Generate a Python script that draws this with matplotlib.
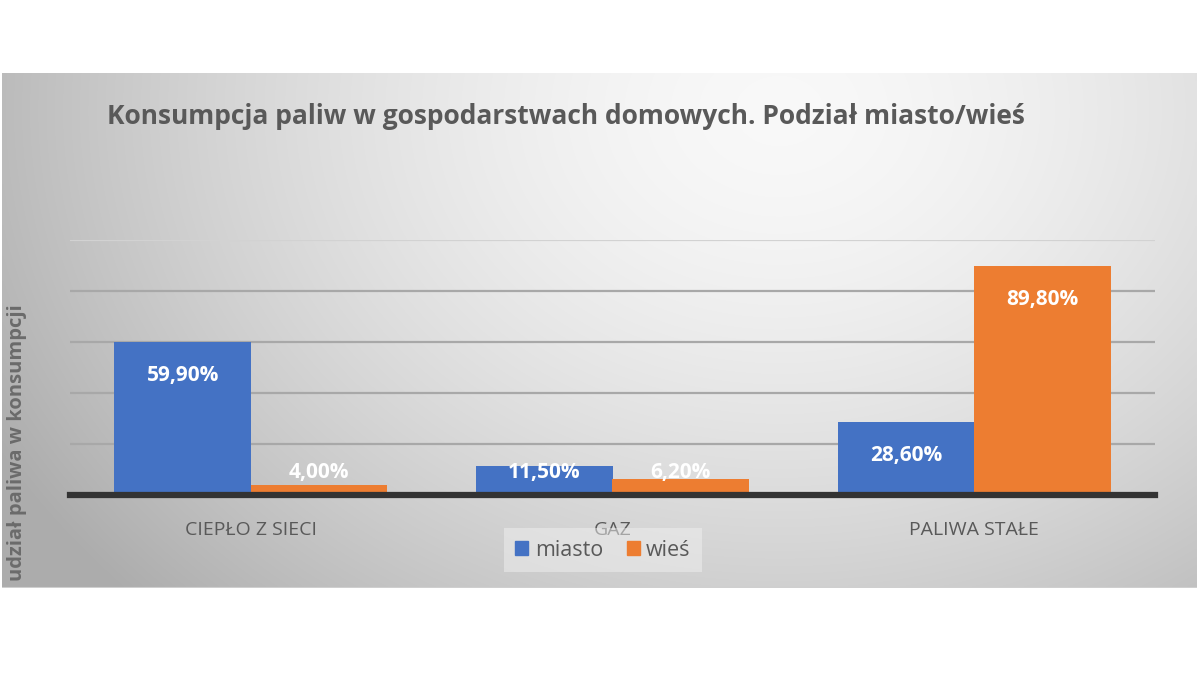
import numpy as np
import matplotlib
matplotlib.use("Agg")
import matplotlib.pyplot as plt
from matplotlib.patches import Patch

# ---- data ----
categories = ["CIEPŁO Z SIECI", "GAZ", "PALIWA STAŁE"]
miasto = [59.9, 11.5, 28.6]
wies = [4.0, 6.2, 89.8]
series_names = ["miasto", "wieś"]
title = "Konsumpcja paliw w gospodarstwach domowych. Podział miasto/wieś"
ylabel = "udział paliwa w konsumpcji"

FONT = ["Open Sans", "DejaVu Sans"]
plt.rcParams["font.family"] = FONT

W, H = 1200, 698
fig = plt.figure(figsize=(W / 100, H / 100), dpi=100)
fig.patch.set_facecolor("white")

# ---- gradient panel background ----
px0, px1, py0, py1 = 2, 1197, 73, 588
bg = fig.add_axes([px0 / W, 1 - py1 / H, (px1 - px0) / W, (py1 - py0) / H])
xs = np.linspace(px0, px1, 400)
ys = np.linspace(py0, py1, 200)
X, Y = np.meshgrid(xs, ys)
d = np.sqrt(((X - 780) / 780) ** 2 + ((Y - 110) / 620) ** 2)
v = 0.975 - 0.24 * np.clip(d, 0, 1.15) ** 1.6
img = np.dstack([v, v, v])
bg.imshow(img, aspect="auto", extent=[0, 1, 0, 1], interpolation="bilinear")
bg.set_xlim(0, 1)
bg.set_ylim(0, 1)
bg.axis("off")
bg.axhline(0.0, color="#cfcfcf", lw=1.5)

# ---- main axes ----
ax_l, ax_r, ax_b, ax_t = 70, 1155, 495, 240
ax = fig.add_axes([ax_l / W, 1 - ax_b / H, (ax_r - ax_l) / W, (ax_b - ax_t) / H])
ax.patch.set_alpha(0)
x = np.arange(len(categories))
bw = 0.377
c_blue = "#4472c4"
c_orange = "#ed7d31"
ax.bar(x - bw / 2, miasto, bw, color=c_blue, zorder=2)
ax.bar(x + bw / 2, wies, bw, color=c_orange, zorder=2)
ax.set_xlim(-0.5, 2.5)
ax.set_ylim(0, 100)
for gy in [20, 40, 60, 80, 100]:
    ax.axhline(gy, color="#a8a8a8" if gy < 100 else "#d2d2d2", lw=1.6, zorder=1)
ax.axhline(0, color="#333333", lw=4.5, zorder=3, clip_on=False)
for s in ax.spines.values():
    s.set_visible(False)
ax.set_yticks([])
ax.set_xticks(x)
ax.set_xticklabels(categories, fontsize=14, color="#595959")
ax.tick_params(axis="x", length=0, pad=19)

def fmt(v):
    return f"{v:.2f}".replace(".", ",") + "%"

for xs_, vals in [(x - bw / 2, miasto), (x + bw / 2, wies)]:
    for xi, vi in zip(xs_, vals):
        ty = max(vi - 13, 9)
        ax.text(xi, ty, fmt(vi), ha="center", va="center", color="white",
                fontsize=15, fontweight="bold", zorder=4)

# ---- title & y label ----
fig.text(107 / W, 1 - 116 / H, title, fontsize=19, fontweight="bold",
         color="#595959", ha="left", va="center")
fig.text(17 / W, 1 - 443 / H, ylabel, rotation=90, fontsize=14.5,
         fontweight="bold", color="#6b6b6b", ha="center", va="center")

# ---- legend ----
handles = [Patch(color=c_blue), Patch(color=c_orange)]
leg = fig.legend(handles, series_names, loc="center",
                 bbox_to_anchor=(603 / W, 1 - 550 / H), ncol=2, frameon=True,
                 fontsize=15.5, handlelength=0.6, handleheight=0.6,
                 handletextpad=0.3, columnspacing=1.1, borderpad=0.55)
leg.get_frame().set_facecolor("#f0f0f0")
leg.get_frame().set_alpha(0.5)
leg.get_frame().set_edgecolor("none")
leg.get_frame().set_boxstyle("square", pad=0)
for t in leg.get_texts():
    t.set_color("#595959")

fig.savefig("out.png", dpi=100, facecolor="white")
